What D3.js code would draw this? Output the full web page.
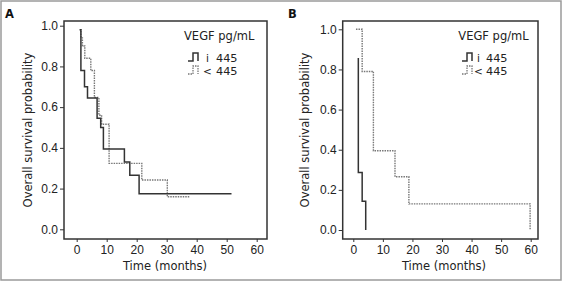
<!DOCTYPE html>
<html>
<head>
<meta charset="utf-8">
<script src="https://cdn.jsdelivr.net/npm/d3@7"></script>
<style>
  body { margin: 0; background: #fff; }
  svg { display: block; font-family: 'DejaVu Sans', sans-serif; }
  .tick text { font-size: 12px; fill: #222; }
</style>
</head>
<body>
<div id="chart"></div>
<script>
const width = 579;
const height = 282;

// Datos
const xTicks = [0, 10, 20, 30, 40, 50, 60];
const yTicks = [0, 0.2, 0.4, 0.6, 0.8, 1.0];
const legendTitle = 'VEGF pg/mL';
const legendSymbols = ['i', '<'];
const legendValues = ['445', '445'];

// Panel A, VEGF >= 445 (continua)
const aHighTimes = [1.0, 1.4, 2.6, 3.6, 6.8, 8.0, 8.9, 15.9, 17.7, 20.8, 51.6];
const aHighSurv  = [0.98, 0.78, 0.70, 0.645, 0.545, 0.50, 0.395, 0.33, 0.265, 0.175, 0.175];
// Panel A, VEGF < 445 (punteada)
const aLowTimes = [1.0, 1.4, 1.9, 2.7, 4.7, 5.9, 7.4, 8.3, 10.8, 21.7, 30.2, 37.8];
const aLowSurv  = [0.98, 0.94, 0.90, 0.84, 0.78, 0.647, 0.56, 0.516, 0.324, 0.242, 0.16, 0.16];

// Panel B, VEGF >= 445
const bHighTimes = [1.7, 1.7, 3.0, 4.2];
const bHighSurv  = [0.857, 0.286, 0.143, 0];
// Panel B, VEGF < 445
const bLowTimes = [0.9, 3.0, 6.8, 14.1, 18.8, 59.8];
const bLowSurv  = [1.0, 0.79, 0.395, 0.265, 0.13, 0];

const svg = d3.select('#chart')
  .append('svg')
  .attr('width', width)
  .attr('height', height);

// Marco exterior
svg.append('rect')
  .attr('x', 1)
  .attr('y', 1)
  .attr('width', 560)
  .attr('height', 279)
  .attr('fill', 'none')
  .attr('stroke', '#9a9a9a')
  .attr('stroke-width', 1.5);

const panels = [
  {
    letter: 'A', letterX: 5,
    frame: [64, 21, 267, 239],
    xRange: [76.7, 256.7], yRange: [229.3, 25.7],
    yTitleX: 32, xTitleX: 165,
    legendX: 184, symX: 188, charX: 207.5, valueX: 216,
    high: [aHighTimes, aHighSurv], low: [aLowTimes, aLowSurv]
  },
  {
    letter: 'B', letterX: 288,
    frame: [342.7, 21, 538, 239],
    xRange: [353.3, 530.7], yRange: [230, 29.3],
    yTitleX: 309, xTitleX: 444,
    legendX: 458.3, symX: 462, charX: 478.5, valueX: 486,
    high: [bHighTimes, bHighSurv], low: [bLowTimes, bLowSurv]
  }
];

panels.forEach(drawPanel);

function drawPanel(p) {
  const g = svg.append('g');
  const [x0, y0, x1, y1] = p.frame;

  const xScale = d3.scaleLinear().domain([0, 60]).range(p.xRange);
  const yScale = d3.scaleLinear().domain([0, 1]).range(p.yRange);

  // Letra del panel
  g.append('text')
    .attr('x', p.letterX)
    .attr('y', 18)
    .attr('font-size', 11.5)
    .attr('font-weight', 'bold')
    .attr('fill', '#111')
    .text(p.letter);

  // Ejes
  const xAxis = g.append('g')
    .attr('transform', `translate(0, ${y1})`)
    .call(d3.axisBottom(xScale).tickValues(xTicks).tickSize(3).tickPadding(3));

  const yAxis = g.append('g')
    .attr('transform', `translate(${x0}, 0)`)
    .call(d3.axisLeft(yScale).tickValues(yTicks).tickFormat(d3.format('.1f')).tickSize(4).tickPadding(2));

  [xAxis, yAxis].forEach(a => {
    a.select('.domain').remove();
    a.selectAll('.tick line').attr('stroke', '#333').attr('stroke-width', 1);
  });

  g.append('rect')
    .attr('x', x0)
    .attr('y', y0)
    .attr('width', x1 - x0)
    .attr('height', y1 - y0)
    .attr('fill', 'none')
    .attr('stroke', '#333')
    .attr('stroke-width', 1.5);

  // Títulos de los ejes
  g.append('text')
    .attr('x', p.xTitleX)
    .attr('y', 270)
    .attr('text-anchor', 'middle')
    .attr('font-size', 11.5)
    .attr('fill', '#222')
    .text('Time (months)');

  g.append('text')
    .attr('transform', `translate(${p.yTitleX}, ${(y0 + y1) / 2}) rotate(-90)`)
    .attr('text-anchor', 'middle')
    .attr('font-size', 11.5)
    .attr('fill', '#222')
    .text('Overall survival probability');

  // Curvas Kaplan-Meier
  const line = d3.line()
    .x(d => xScale(d[0]))
    .y(d => yScale(d[1]))
    .curve(d3.curveStepAfter);

  g.append('path')
    .datum(d3.zip(p.low[0], p.low[1]))
    .attr('d', line)
    .attr('fill', 'none')
    .attr('stroke', '#777')
    .attr('stroke-width', 1.4)
    .attr('stroke-dasharray', '1.5,1');

  g.append('path')
    .datum(d3.zip(p.high[0], p.high[1]))
    .attr('d', line)
    .attr('fill', 'none')
    .attr('stroke', '#333')
    .attr('stroke-width', 1.5);

  // Leyenda
  g.append('text')
    .attr('x', p.legendX)
    .attr('y', 40)
    .attr('font-size', 11.5)
    .attr('fill', '#222')
    .text(legendTitle);

  const rows = [
    { y: 61, stroke: '#333', dash: null, width: 1.5 },
    { y: 74, stroke: '#777', dash: '1.5,1', width: 1.3 }
  ];
  rows.forEach((r, i) => {
    const sx = p.symX;
    g.append('path')
      .attr('d', `M${sx},${r.y} H${sx + 5} V${r.y - 8} H${sx + 10} V${r.y}`)
      .attr('fill', 'none')
      .attr('stroke', r.stroke)
      .attr('stroke-width', r.width)
      .attr('stroke-dasharray', r.dash);
    g.append('text')
      .attr('x', p.charX)
      .attr('y', r.y + 0.5)
      .attr('text-anchor', 'middle')
      .attr('font-size', 10.5)
      .attr('fill', '#222')
      .text(legendSymbols[i]);
    g.append('text')
      .attr('x', p.valueX)
      .attr('y', r.y + 0.5)
      .attr('font-size', 11.3)
      .attr('fill', '#222')
      .text(legendValues[i]);
  });
}
</script>
</body>
</html>
